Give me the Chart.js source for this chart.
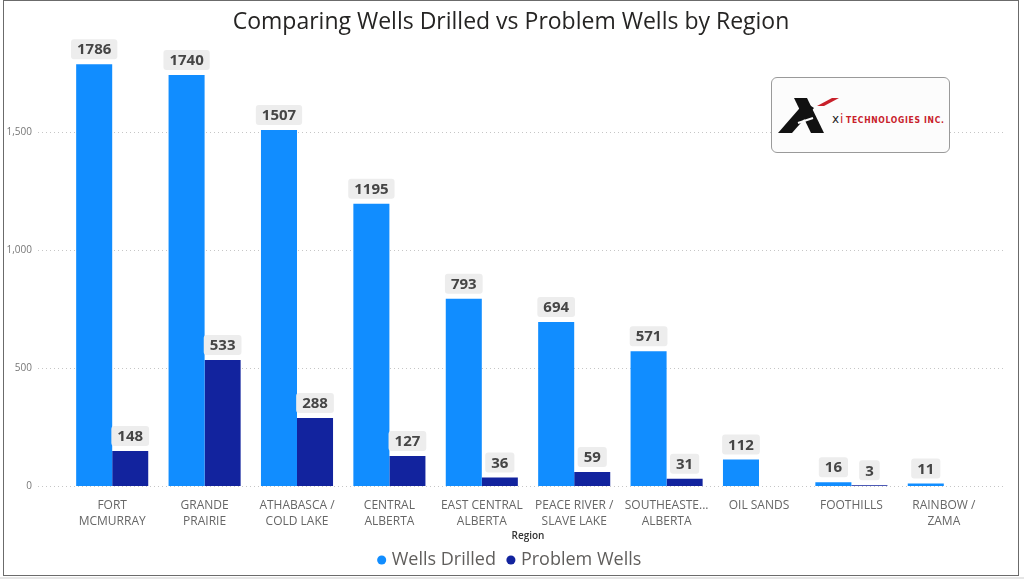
<!DOCTYPE html>
<html>
<head>
<meta charset="utf-8">
<script src="https://cdn.jsdelivr.net/npm/chart.js@4/dist/chart.umd.min.js"></script>
<style>
  body { margin: 0; background: #fff; width: 1024px; height: 579px; overflow: hidden; font-family: "Open Sans", sans-serif; }
  #frame { position: absolute; left: 3px; top: 0; width: 1014px; height: 574px; border: 1px solid #6b6b6b; background: #fff; overflow: hidden; }
  #strip { position: absolute; left: 0; top: 577px; width: 1024px; height: 2px; background: #e6e6e6; }
  #logo { position: absolute; left: 771px; top: 77px; width: 177px; height: 74px; border: 1px solid #9a9a9a; border-radius: 6px; background: #fcfcfc; }
</style>
</head>
<body>
<div id="frame"><canvas id="wellsChart" width="1014" height="574"></canvas></div>
<div id="strip"></div>
<div id="logo">
  <svg width="177" height="74" viewBox="0 0 177 74">
    <!-- logo X -->
    <polygon points="22,20 35,20 52,55 39,55" fill="#111"/>
    <polygon points="6,55 20,55 42,30 33,24" fill="#111"/>
    <line x1="26" y1="45" x2="41" y2="40" stroke="#fcfcfc" stroke-width="2"/>
    <polygon points="45,28 60,20 67,20 52,28" fill="#c8202a"/>
    <text x="60" y="45" font-family="DejaVu Sans" font-size="12" fill="#222">x</text>
    <text x="68" y="45" font-family="DejaVu Sans" font-size="12" fill="#c8202a">i</text>
    <text x="74" y="45" font-family="DejaVu Sans Condensed" font-weight="bold" font-size="8.5" letter-spacing="0.7" fill="#c8202a">TECHNOLOGIES INC.</text>
  </svg>
</div>
<script>
// Dados do gráfico
const regions = [
    ['FORT', 'MCMURRAY'],
    ['GRANDE', 'PRAIRIE'],
    ['ATHABASCA /', 'COLD LAKE'],
    ['CENTRAL', 'ALBERTA'],
    ['EAST CENTRAL', 'ALBERTA'],
    ['PEACE RIVER /', 'SLAVE LAKE'],
    ['SOUTHEASTE...', 'ALBERTA'],
    'OIL SANDS',
    'FOOTHILLS',
    ['RAINBOW /', 'ZAMA']
];
const wellsDrilled = [1786, 1740, 1507, 1195, 793, 694, 571, 112, 16, 11];
const problemWells = [148, 533, 288, 127, 36, 59, 31, null, 3, null];
const yTicks = [0, 500, 1000, 1500];
const yMax = 1884;

// Linhas de grade pontilhadas (estilo Power BI, mais largas que a área do gráfico)
const gridPlugin = {
    id: 'dottedGrid',
    beforeDatasetsDraw(chart) {
        const c = chart.ctx;
        const y = chart.scales.y;
        c.save();
        c.strokeStyle = '#c6c6c6';
        c.lineWidth = 1;
        c.setLineDash([1, 3]);
        yTicks.forEach(v => {
            const py = Math.round(y.getPixelForValue(v)) + 0.5;
            c.beginPath();
            c.moveTo(34, py);
            c.lineTo(1001, py);
            c.stroke();
        });
        c.restore();
    }
};

// Rótulos de dados com caixa cinza
const labelPlugin = {
    id: 'barLabels',
    afterDatasetsDraw(chart) {
        const c = chart.ctx;
        c.save();
        c.font = 'bold 15px "Open Sans"';
        c.textAlign = 'center';
        c.textBaseline = 'middle';
        chart.data.datasets.forEach((ds, i) => {
            chart.getDatasetMeta(i).data.forEach((bar, j) => {
                const v = ds.data[j];
                if (v === null || v === undefined) return;
                const txt = String(v);
                const w = c.measureText(txt).width + 12;
                const h = 20;
                const bx = bar.x - w / 2;
                const by = bar.y - 5 - h;
                c.fillStyle = '#ededed';
                c.beginPath();
                c.roundRect(bx, by, w, h, 3);
                c.fill();
                c.fillStyle = '#454545';
                c.fillText(txt, bar.x, by + h / 2 + 1);
            });
        });
        c.restore();
    }
};

const ctx = document.getElementById('wellsChart').getContext('2d');
const chart = new Chart(ctx, {
    type: 'bar',
    data: {
        labels: regions,
        datasets: [{
            label: 'Wells Drilled',
            data: wellsDrilled,
            backgroundColor: '#118DFF',
            yAxisID: 'y'
        }, {
            label: 'Problem Wells',
            data: problemWells,
            backgroundColor: '#12239E',
            yAxisID: 'y'
        }]
    },
    options: {
        responsive: false,
        animation: false,
        categoryPercentage: 0.78,
        barPercentage: 1,
        layout: { padding: { top: 0, right: 0, bottom: -4, left: 0 } },
        scales: {
            x: {
                grid: { display: false, drawTicks: false },
                border: { display: false },
                ticks: {
                    padding: 11,
                    color: '#666666',
                    maxRotation: 0,
                    autoSkip: false,
                    font: { family: 'Open Sans', size: 12, lineHeight: 1.35 }
                },
                title: {
                    display: true,
                    text: 'Region',
                    color: '#333333',
                    padding: { top: 0, bottom: -5 },
                    font: { family: 'Open Sans', size: 10, weight: '600' }
                },
                afterFit(scale) { scale.height = 51; }
            },
            y: {
                min: 0,
                max: yMax,
                grid: { display: false, drawTicks: false },
                border: { display: false },
                afterBuildTicks(scale) { scale.ticks = yTicks.map(v => ({ value: v })); },
                ticks: {
                    padding: 34,
                    color: '#777777',
                    font: { family: 'Open Sans', size: 10 },
                    callback: v => v.toLocaleString('en-US')
                },
                afterFit(scale) { scale.width = 62; }
            },
            // eixo vazio à direita, só para reservar a margem
            yRight: {
                position: 'right',
                min: 0,
                max: yMax,
                grid: { display: false, drawTicks: false },
                border: { display: false },
                ticks: { display: false },
                afterFit(scale) { scale.width = 28; }
            }
        },
        plugins: {
            title: {
                display: true,
                text: 'Comparing Wells Drilled vs Problem Wells by Region',
                color: '#252423',
                padding: { top: 0, bottom: 5 },
                font: { family: 'Open Sans', size: 23, weight: 'normal', lineHeight: 1.2 }
            },
            legend: {
                position: 'bottom',
                labels: {
                    usePointStyle: true,
                    pointStyle: 'circle',
                    boxWidth: 2,
                    boxHeight: 6.4,
                    padding: 14,
                    color: '#605e5c',
                    font: { family: 'Open Sans', size: 18 }
                }
            },
            tooltip: { enabled: false }
        }
    },
    plugins: [gridPlugin, labelPlugin]
});
</script>
</body>
</html>
